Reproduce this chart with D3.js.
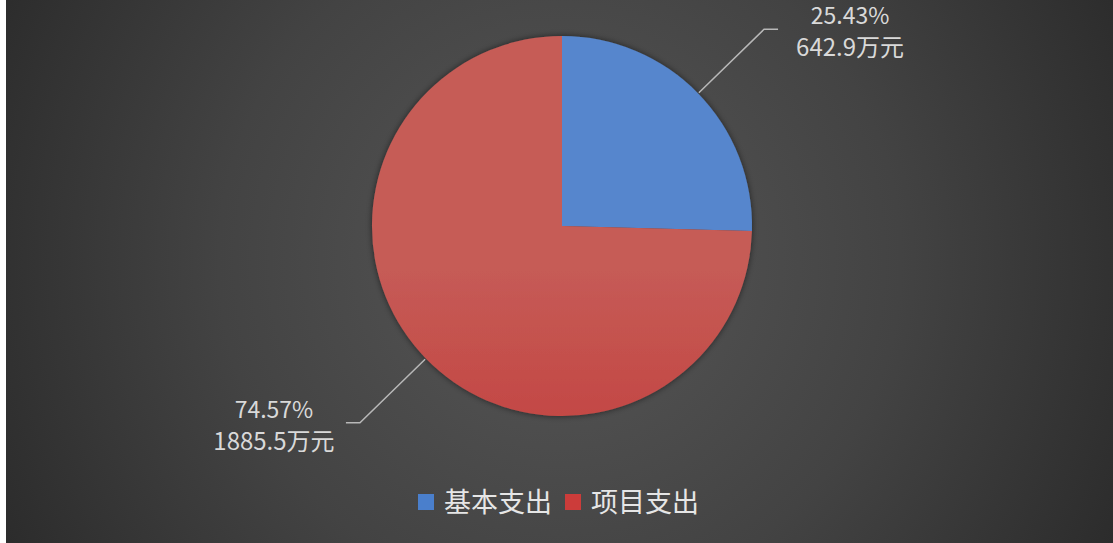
<!DOCTYPE html>
<html>
<head>
<meta charset="utf-8">
<script src="https://cdn.jsdelivr.net/npm/d3@7"></script>
<style>
  html, body { margin: 0; padding: 0; background: #fff; }
  svg { display: block; }
</style>
</head>
<body>
<div id="chart"></div>
<script>
// Data
const categories = ["基本支出", "项目支出"];
const values = [642.9, 1885.5];
const unit = "万元";

const width = 1113, height = 543;
const cx = 562, cy = 226, radius = 190;

// gradient stops per slice: top, middle, bottom
const sliceStops = [
  ["#5686cd", "#4a7bc4", "#3b6bb1"],
  ["#c65c57", "#c34643", "#b33836"]
];
const legendColors = ["#4a7fcc", "#cc3c3a"];

const svg = d3.select("#chart")
  .append("svg")
  .attr("width", width)
  .attr("height", height);

const defs = svg.append("defs");

// Background gradient
const bg = defs.append("radialGradient")
  .attr("id", "bg")
  .attr("gradientUnits", "userSpaceOnUse")
  .attr("cx", 560).attr("cy", 260).attr("r", 620);
bg.append("stop").attr("offset", "0%").attr("stop-color", "#575757");
bg.append("stop").attr("offset", "55%").attr("stop-color", "#434343");
bg.append("stop").attr("offset", "100%").attr("stop-color", "#2c2c2c");

// Slice gradients
sliceStops.forEach(function (stops, i) {
  const g = defs.append("linearGradient")
    .attr("id", "slice" + i)
    .attr("gradientUnits", "userSpaceOnUse")
    .attr("x1", 0).attr("y1", cy - radius)
    .attr("x2", 0).attr("y2", cy + radius);
  g.append("stop").attr("offset", "0%").attr("stop-color", stops[0]);
  g.append("stop").attr("offset", "45%").attr("stop-color", stops[1]);
  g.append("stop").attr("offset", "100%").attr("stop-color", stops[2]);
});

const shadow = defs.append("filter")
  .attr("id", "shadow")
  .attr("x", "-10%").attr("y", "-10%")
  .attr("width", "120%").attr("height", "120%");
shadow.append("feDropShadow")
  .attr("dx", 0).attr("dy", 0)
  .attr("stdDeviation", 3)
  .attr("flood-color", "#000")
  .attr("flood-opacity", 0.55);

svg.append("rect")
  .attr("x", 6).attr("y", 0)
  .attr("width", width - 6).attr("height", height)
  .attr("fill", "url(#bg)");

const total = d3.sum(values);
const pctFormat = d3.format(".2%");

const pie = d3.pie().sort(null).value(function (d) { return d; });
const arcs = pie(values);

const arc = d3.arc().innerRadius(0).outerRadius(radius);

const g = svg.append("g")
  .attr("transform", `translate(${cx}, ${cy})`);

g.append("g")
  .attr("filter", "url(#shadow)")
  .selectAll("path")
  .data(arcs)
  .enter()
  .append("path")
  .attr("d", arc)
  .attr("fill", function (d, i) { return "url(#slice" + i + ")"; });

// Leader lines and labels
const outerR = 282;
const labelG = g.selectAll(".label")
  .data(arcs)
  .enter()
  .append("g")
  .attr("class", "label");

function midPoint(d, r) {
  const a = (d.startAngle + d.endAngle) / 2;
  return [r * Math.sin(a), -r * Math.cos(a)];
}

labelG.append("polyline")
  .attr("points", function (d) {
    const p1 = midPoint(d, radius + 1);
    const p2 = midPoint(d, outerR);
    const dir = p2[0] > 0 ? 1 : -1;
    const p3 = [p2[0] + dir * 14, p2[1]];
    return [p1, p2, p3].map(function (p) { return p.join(","); }).join(" ");
  })
  .attr("fill", "none")
  .attr("stroke", "#b8b8b8")
  .attr("stroke-width", 1.5);

labelG.each(function (d, i) {
  const p2 = midPoint(d, outerR);
  const dir = p2[0] > 0 ? 1 : -1;
  const x = p2[0] + dir * 14 + dir * 72;
  const sel = d3.select(this);
  sel.append("text")
    .attr("x", x).attr("y", p2[1] - 5)
    .attr("text-anchor", "middle")
    .attr("fill", "#d9d9d9")
    .style("font-family", "'Noto Sans CJK SC', 'Noto Sans', sans-serif")
    .style("font-size", "23px")
    .text(pctFormat(d.data / total));
  sel.append("text")
    .attr("x", x).attr("y", p2[1] + 27)
    .attr("text-anchor", "middle")
    .attr("fill", "#d9d9d9")
    .style("font-family", "'Noto Sans CJK SC', 'Noto Sans', sans-serif")
    .style("font-size", "24px")
    .text(d3.format(".1f")(d.data) + unit);
});

// Legend
const legend = svg.append("g")
  .attr("transform", "translate(418, 502)");

const legendX = [0, 147];
categories.forEach(function (c, i) {
  const item = legend.append("g")
    .attr("transform", `translate(${legendX[i]}, 0)`);
  item.append("rect")
    .attr("x", 0).attr("y", -8)
    .attr("width", 16).attr("height", 16)
    .attr("fill", legendColors[i]);
  item.append("text")
    .attr("x", 26).attr("y", 10)
    .attr("fill", "#e6e6e6")
    .style("font-family", "'Noto Sans CJK SC', sans-serif")
    .style("font-size", "27px")
    .text(c);
});
</script>
</body>
</html>
